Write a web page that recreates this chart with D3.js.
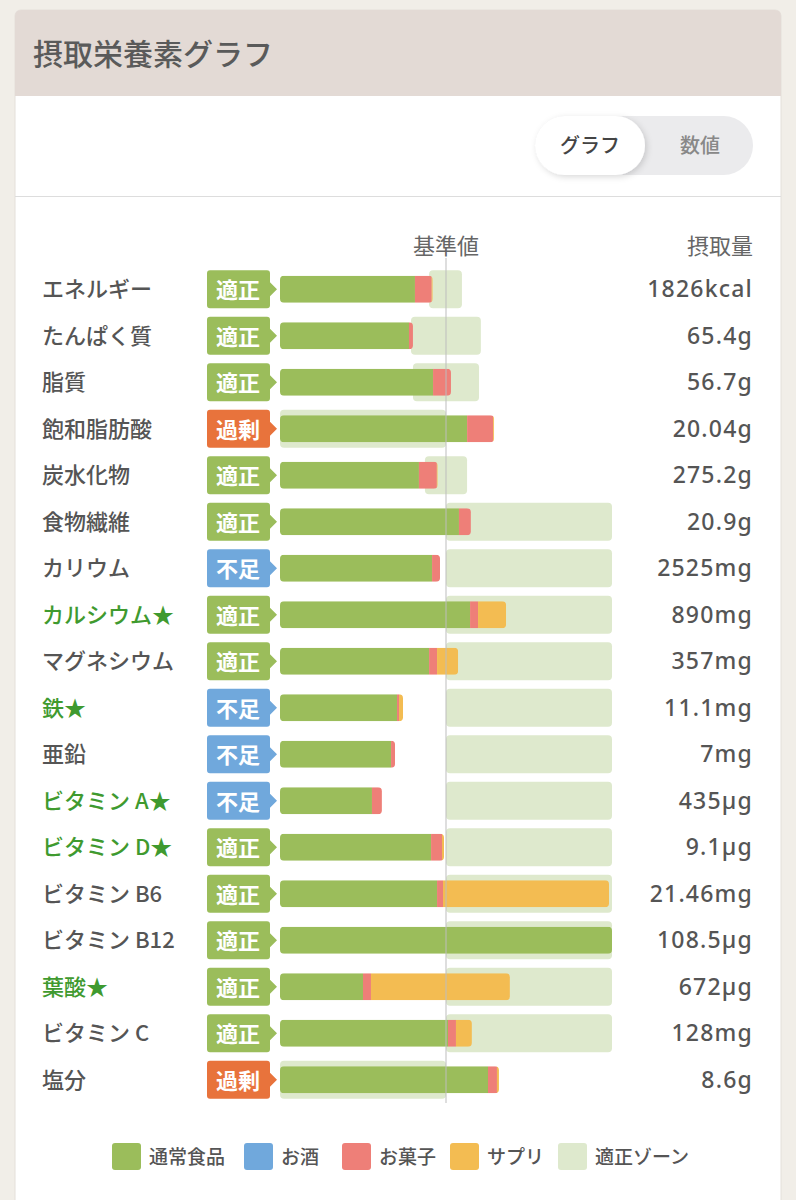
<!DOCTYPE html>
<html>
<head>
<meta charset="utf-8">
<script src="https://cdn.jsdelivr.net/npm/d3@7"></script>
<style>
  html, body { margin: 0; padding: 0; background: #f1eee8; }
  svg { display: block; }
  text { font-family: "Noto Sans CJK JP", "Noto Sans", sans-serif; }
</style>
</head>
<body>
<svg id="chart" width="796" height="1200"></svg>
<script>
// nutrient rows (values in % of the reference value)
var nutrients = ['エネルギー', 'たんぱく質', '脂質', '飽和脂肪酸', '炭水化物', '食物繊維', 'カリウム', 'カルシウム', 'マグネシウム', '鉄', '亜鉛', 'ビタミン A', 'ビタミン D', 'ビタミン B6', 'ビタミン B12', '葉酸', 'ビタミン C', '塩分'];
var starred = [false, false, false, false, false, false, false, true, false, true, false, true, true, false, false, true, false, false];
var judgements = ['適正', '適正', '適正', '過剰', '適正', '適正', '不足', '適正', '適正', '不足', '不足', '不足', '適正', '適正', '適正', '適正', '適正', '過剰'];
var amounts = ['1826kcal', '65.4g', '56.7g', '20.04g', '275.2g', '20.9g', '2525mg', '890mg', '357mg', '11.1mg', '7mg', '435µg', '9.1µg', '21.46mg', '108.5µg', '672µg', '128mg', '8.6g'];

var food    = [81.3, 77.7, 92.2, 112.7, 83.7, 107.8, 91.6, 114.5, 89.8, 70.5, 66.9, 55.4, 91.0, 94.6, 200, 50.0, 101.2, 125.3];
var alcohol = [0, 0, 0, 0, 0, 0, 0, 0, 0, 0, 0, 0, 0, 0, 0, 0, 0, 0];
var snack   = [10.1, 2.4, 10.8, 15.7, 10.8, 7.2, 4.8, 4.8, 4.8, 1.2, 2.4, 6.0, 6.6, 3.6, 0, 4.8, 4.8, 5.4];
var supp    = [0.6, 0, 0, 0.6, 0.5, 0, 0, 16.9, 12.7, 2.4, 0, 0, 1.2, 100, 0, 83.7, 9.6, 1.2];
var zoneLo  = [89.8, 78.9, 80.1, 0, 87.3, 100, 100, 100, 100, 100, 100, 100, 100, 100, 100, 100, 100, 0];
var zoneHi  = [109.6, 121.0, 119.9, 100, 112.7, 200, 200, 200, 200, 200, 200, 200, 200, 200, 200, 200, 200, 100];

var legendLabels = ['通常食品', 'お酒', 'お菓子', 'サプリ', '適正ゾーン'];

var colFood = '#9bbd5b', colAlcohol = '#70a8dc', colSnack = '#ee7f78', colSupp = '#f3bc52', colZone = '#dee9cd';
var badgeCol = { '適正': '#9bbd5b', '不足': '#70a8dc', '過剰': '#e8733c' };
var legendCols = [colFood, colAlcohol, colSnack, colSupp, colZone];

const svg = d3.select('#chart');

// card
svg.append('rect').attr('x', 15).attr('y', 10).attr('width', 766).attr('height', 1200)
    .attr('rx', 6).attr('fill', '#fff').attr('stroke', '#e4e0da');
svg.append('path').attr('d', 'M15,96 V16 Q15,10 21,10 H775 Q781,10 781,16 V96 Z').attr('fill', '#e3dad5');
svg.append('text').attr('x', 33).attr('y', 52).attr('dominant-baseline', 'central')
    .attr('font-size', 30).attr('font-weight', 500).attr('fill', '#5a5a5a').text('摂取栄養素グラフ');

// toggle
svg.append('rect').attr('x', 535).attr('y', 116).attr('width', 218).attr('height', 59).attr('rx', 29.5).attr('fill', '#ebebed');
var defs = svg.append('defs');
var f = defs.append('filter').attr('id', 'sh').attr('x', -0.2).attr('y', -0.3).attr('width', 1.4).attr('height', 1.6);
f.append('feDropShadow').attr('dx', 2).attr('dy', 2).attr('stdDeviation', 3).attr('flood-color', '#000').attr('flood-opacity', 0.15);
svg.append('rect').attr('x', 535).attr('y', 116).attr('width', 110).attr('height', 59).attr('rx', 29.5).attr('fill', '#fff').attr('filter', 'url(#sh)');
svg.append('text').attr('x', 590).attr('y', 144).attr('text-anchor', 'middle').attr('dominant-baseline', 'central')
    .attr('font-size', 20).attr('font-weight', 500).attr('fill', '#444').text('グラフ');
svg.append('text').attr('x', 700).attr('y', 144).attr('text-anchor', 'middle').attr('dominant-baseline', 'central')
    .attr('font-size', 20).attr('font-weight', 500).attr('fill', '#888').text('数値');
svg.append('line').attr('x1', 15).attr('x2', 781).attr('y1', 196.5).attr('y2', 196.5).attr('stroke', '#ddd');

// scales
const x = d3.scaleLinear().domain([0, 200]).range([280, 612]);
const y = d3.scaleBand().domain(nutrients).range([266, 1103]);
const mid = (d) => y(d) + y.bandwidth() / 2;

svg.append('text').attr('x', x(100)).attr('y', 244).attr('text-anchor', 'middle').attr('dominant-baseline', 'central')
    .attr('font-size', 22).attr('fill', '#666').text('基準値');
svg.append('text').attr('x', 753).attr('y', 244).attr('text-anchor', 'end').attr('dominant-baseline', 'central')
    .attr('font-size', 22).attr('fill', '#666').text('摂取量');

var rows = svg.append('g').selectAll('g').data(nutrients).enter().append('g');

// zones
rows.append('rect')
    .attr('x', (d, i) => x(zoneLo[i]))
    .attr('width', (d, i) => x(zoneHi[i]) - x(zoneLo[i]))
    .attr('y', (d) => mid(d) - 19).attr('height', 38).attr('rx', 4)
    .attr('fill', colZone);

// stacked bars, clipped to a rounded rect
rows.each(function (d, i) {
    var segs = [[food[i], colFood], [alcohol[i], colAlcohol], [snack[i], colSnack], [supp[i], colSupp]];
    var total = Math.min(200, d3.sum(segs, (s) => s[0]));
    defs.append('clipPath').attr('id', 'clip' + i).append('rect')
        .attr('x', x(0)).attr('width', x(total) - x(0))
        .attr('y', mid(d) - 13.5).attr('height', 27).attr('rx', 4);
    var g = d3.select(this).append('g').attr('clip-path', 'url(#clip' + i + ')');
    var acc = 0;
    segs.forEach(function (s) {
        if (s[0] <= 0) return;
        g.append('rect').attr('x', x(acc)).attr('width', x(Math.min(200, acc + s[0])) - x(acc))
            .attr('y', mid(d) - 13.5).attr('height', 27).attr('fill', s[1]);
        acc += s[0];
    });
});

// reference line
svg.append('line').attr('x1', x(100)).attr('x2', x(100)).attr('y1', 258).attr('y2', 1103)
    .attr('stroke', '#bdbdbd').attr('stroke-width', 1);

// badges
rows.append('path')
    .attr('d', function (d) {
        var c = mid(d);
        return 'M210,' + (c - 19) + ' H267 Q270,' + (c - 19) + ' 270,' + (c - 16) + ' V' + (c - 7) + ' L277,' + c +
            ' L270,' + (c + 7) + ' V' + (c + 16) + ' Q270,' + (c + 19) + ' 267,' + (c + 19) + ' H210 Q207,' + (c + 19) +
            ' 207,' + (c + 16) + ' V' + (c - 16) + ' Q207,' + (c - 19) + ' 210,' + (c - 19) + ' Z';
    })
    .attr('fill', (d, i) => badgeCol[judgements[i]]);
rows.append('text')
    .attr('x', 238).attr('y', (d) => mid(d) - 1)
    .attr('text-anchor', 'middle').attr('dominant-baseline', 'central')
    .attr('font-size', 22).attr('font-weight', 700).attr('fill', '#fff')
    .text((d, i) => judgements[i]);

// labels
rows.append('text')
    .attr('x', 42).attr('y', (d) => mid(d) - 2)
    .attr('dominant-baseline', 'central')
    .attr('font-size', 22).attr('font-weight', 500)
    .attr('fill', (d, i) => starred[i] ? '#3f9a2f' : '#555')
    .text((d, i) => d + (starred[i] ? '★' : ''));

// amounts
rows.append('text')
    .attr('x', 753).attr('y', (d) => mid(d) - 1)
    .attr('text-anchor', 'end').attr('dominant-baseline', 'central')
    .attr('font-size', 23).attr('font-weight', 500).attr('fill', '#555')
    .attr('letter-spacing', 1.2)
    .style('font-family', '"Noto Sans", sans-serif')
    .text((d, i) => amounts[i]);

// legend
var legX = [112, 244, 342, 450, 558];
var leg = svg.append('g').selectAll('g').data(legendLabels).enter().append('g')
    .attr('transform', (d, i) => 'translate(' + legX[i] + ',1143)');
leg.append('rect').attr('width', 29).attr('height', 27).attr('rx', 3).attr('fill', (d, i) => legendCols[i]);
leg.append('text').attr('x', 37).attr('y', 12).attr('dominant-baseline', 'central')
    .attr('font-size', 19).attr('font-weight', 500).attr('fill', '#555').text((d) => d);
</script>
</body>
</html>
